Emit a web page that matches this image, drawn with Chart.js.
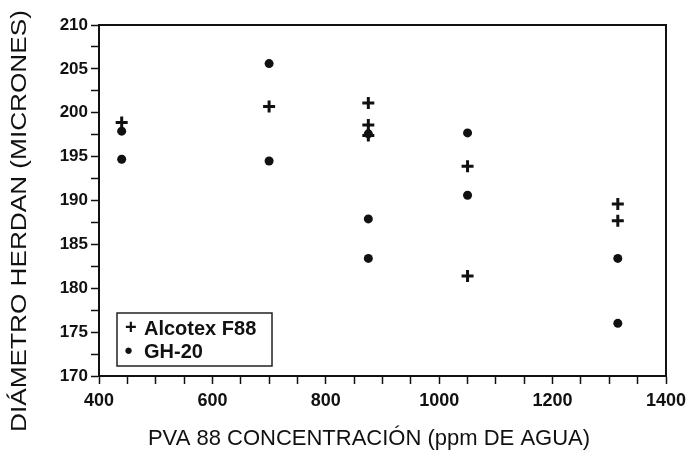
<!DOCTYPE html>
<html>
<head>
<meta charset="utf-8">
<script src="https://cdn.jsdelivr.net/npm/chart.js@4"></script>
<style>
  html, body { margin: 0; padding: 0; background: #fff; }
  #contenedor { width: 688px; height: 457px; }
</style>
</head>
<body>
<div id="contenedor"><canvas id="grafico"></canvas></div>
<script>
// Datos
const concAlcotex = [440, 700, 875, 875, 875, 1050, 1050, 1315, 1315];
const diamAlcotex = [198.9, 200.7, 201.1, 198.6, 197.4, 193.9, 181.4, 189.6, 187.7];

const concGH20 = [440, 440, 700, 700, 875, 875, 875, 1050, 1050, 1315, 1315];
const diamGH20 = [197.9, 194.7, 205.6, 194.5, 197.6, 187.9, 183.4, 197.7, 190.6, 183.4, 176.0];

const nombresSeries = ["Alcotex F88", "GH-20"];
const simbolosLeyenda = ["+", "\u25CF"];
const tituloX = "PVA 88 CONCENTRACIÓN (ppm DE AGUA)";
const tituloY = "DIÁMETRO HERDAN (MICRONES)";

const familia = "'Liberation Sans', Arial, sans-serif";

function aPuntos(xs, ys) {
  return xs.map(function (x, i) { return { x: x, y: ys[i] }; });
}

// marco completo alrededor del area del grafico
const marco = {
  id: "marco",
  afterDraw: function (chart) {
    const a = chart.chartArea;
    const ctx = chart.ctx;
    ctx.save();
    ctx.strokeStyle = "#111";
    ctx.lineWidth = 2;
    ctx.strokeRect(a.left, a.top, a.right - a.left, a.bottom - a.top);
    ctx.restore();
  }
};

// titulos de los ejes, colocados como en el original (el de Y algo estirado)
const titulosEjes = {
  id: "titulosEjes",
  afterDraw: function (chart) {
    const ctx = chart.ctx;
    ctx.save();
    ctx.font = "22px " + familia;
    ctx.fillStyle = "#111";
    ctx.textAlign = "center";
    ctx.textBaseline = "middle";
    ctx.fillText(tituloX, 369, 439);
    ctx.translate(20, 221);
    ctx.rotate(-Math.PI / 2);
    ctx.scale(1.19, 1);
    ctx.fillText(tituloY, 0, 0);
    ctx.restore();
  }
};

// leyenda dentro del grafico, abajo a la izquierda
const leyenda = {
  id: "leyenda",
  afterDraw: function (chart) {
    const a = chart.chartArea;
    const ctx = chart.ctx;
    const x0 = a.left + 18, y0 = a.bottom - 63, w = 155, h = 53;
    ctx.save();
    ctx.fillStyle = "#fff";
    ctx.fillRect(x0, y0, w, h);
    ctx.strokeStyle = "#222";
    ctx.lineWidth = 1.5;
    ctx.strokeRect(x0, y0, w, h);
    ctx.fillStyle = "#111";
    ctx.textBaseline = "middle";
    nombresSeries.forEach(function (nombre, i) {
      const yy = y0 + 15 + i * 23;
      ctx.font = (i === 0 ? "bold 20px " : "15px ") + familia;
      ctx.fillText(simbolosLeyenda[i], x0 + (i === 0 ? 8 : 7), yy);
      ctx.font = "bold 20px " + familia;
      ctx.fillText(nombre, x0 + 27, yy + 1);
    });
    ctx.restore();
  }
};

new Chart(document.getElementById("grafico"), {
  type: "scatter",
  data: {
    datasets: [
      {
        label: nombresSeries[0],
        data: aPuntos(concAlcotex, diamAlcotex),
        pointStyle: "cross",
        pointRadius: 6,
        borderWidth: 3,
        borderColor: "#111",
        backgroundColor: "#111"
      },
      {
        label: nombresSeries[1],
        data: aPuntos(concGH20, diamGH20),
        pointStyle: "circle",
        pointRadius: 4.5,
        borderWidth: 0,
        borderColor: "#111",
        backgroundColor: "#111"
      }
    ]
  },
  options: {
    responsive: true,
    maintainAspectRatio: false,
    animation: false,
    layout: { padding: { top: 25, right: 22 } },
    plugins: {
      legend: { display: false },
      tooltip: { enabled: false }
    },
    scales: {
      x: {
        type: "linear",
        min: 400,
        max: 1400,
        afterFit: function (escala) {
          escala.height = 81;
          escala.paddingRight = 0;
          escala.paddingLeft = 0;
        },
        ticks: {
          stepSize: 50,
          autoSkip: false,
          maxRotation: 0,
          padding: 6,
          color: "#111",
          font: { family: familia, size: 18, weight: "bold" },
          callback: function (v) { return v % 200 === 0 ? String(v) : ""; }
        },
        grid: { drawOnChartArea: false, drawTicks: true, tickLength: 8, tickColor: "#111", tickWidth: 1.5 },
        border: { color: "#111", width: 2 },
        title: { display: false }
      },
      y: {
        min: 170,
        max: 210,
        afterFit: function (escala) { escala.width = 99; },
        ticks: {
          stepSize: 2.5,
          autoSkip: false,
          padding: 3,
          color: "#111",
          font: { family: familia, size: 17, weight: "bold" },
          callback: function (v) { return v % 5 === 0 ? String(v) : ""; }
        },
        grid: { drawOnChartArea: false, drawTicks: true, tickLength: 8, tickColor: "#111", tickWidth: 1.5 },
        border: { color: "#111", width: 2 },
        title: { display: false }
      }
    }
  },
  plugins: [marco, titulosEjes, leyenda]
});
</script>
</body>
</html>
